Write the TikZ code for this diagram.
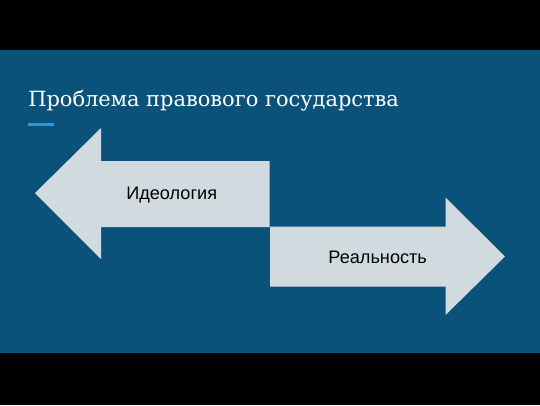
\documentclass[tikz,border=0pt]{standalone}
\usepackage{fontspec}
\setmainfont{Liberation Sans}
\newfontfamily\titlefont{DejaVu Serif}
\definecolor{bgblue}{HTML}{0B527A}
\definecolor{arrowfill}{HTML}{D1DADE}
\definecolor{accent}{HTML}{2C97DA}
\tikzset{
  arrowshape/.style={fill=arrowfill, draw=none},
  arrowlabel/.style={font=\fontsize{13.6pt}{15pt}\selectfont, text=black, inner sep=0pt},
}
\begin{document}
\begin{tikzpicture}[x=0.75pt,y=-0.75pt]
\useasboundingbox (0,0) rectangle (540,405);
\fill[black] (0,0) rectangle (540,405);
\fill[bgblue] (0,49.5) rectangle (540,353);
\node[anchor=base west, inner sep=0pt, text=white, font=\titlefont\fontsize{15.7pt}{19pt}\selectfont] (title) at (28,106) {Проблема правового государства};
\draw[accent, line width=2pt] (28,124.5) coordinate (acc1) -- (54,124.5) coordinate (acc2);
% left arrow
\fill[arrowshape] (35,193) -- (101,128) -- (101,161) -- (269.5,161) -- (269.5,227) -- (101,227) -- (101,259) -- cycle;
% right arrow
\fill[arrowshape] (270,226.5) -- (445.5,226.5) -- (445.5,197.5) -- (505,256.5) -- (445.5,315) -- (445.5,286.7) -- (270,286.7) -- cycle;
\node[arrowlabel] (ideo) at (171.7,195) {Идеология};
\node[arrowlabel] (real) at (377.7,257) {Реальность};
\end{tikzpicture}
\end{document}
